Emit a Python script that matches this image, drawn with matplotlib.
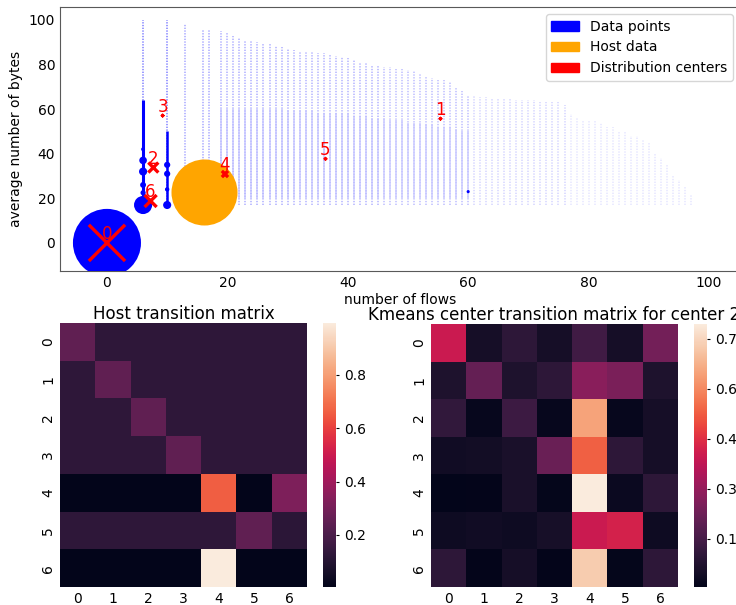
import numpy as np
import matplotlib
matplotlib.use("Agg")
import matplotlib.pyplot as plt
import matplotlib.patches as mpatches
import matplotlib.ticker as mticker
import seaborn as sns

# ---- flow / byte cloud: one faint column of points per number of flows ----
cloud_x = [6, 10, 13, 16, 17] + list(range(19, 98))
cloud_top = [100, 100, 98, 96, 95.5,
             95, 94.5, 93, 92, 91, 91, 90, 89.5, 89, 88.5, 88,      # 19-29
             87, 86.5, 86, 86, 85.5, 85, 85, 84.5, 84, 83.5,        # 30-39
             83, 82, 81, 80.5, 80, 79.5, 79, 79, 78, 78,            # 40-49
             77.5, 77, 76, 75, 74, 73, 73, 72, 70, 68,              # 50-59
             66, 66, 65.5, 65.5, 65, 65, 65, 65, 64, 64,            # 60-69
             64, 64, 63, 63, 63, 63, 62, 58, 56, 55,                # 70-79
             55, 55, 54, 52, 52, 50, 50, 48, 48, 46,                # 80-89
             45, 40, 38, 35, 30, 28, 25, 22]                        # 90-97
cloud_bottom = 17
cloud_alpha = [0.5, 0.5, 0.35, 0.35, 0.35] + \
              [0.32] * 12 + [0.3] * 15 + [0.26] * 15 + [0.17] * 16 + [0.1] * 21

# denser band of the cloud
core_x = list(range(19, 61))
core_lo = 20
core_hi = [60, 60, 60, 60, 60, 60, 60, 60, 60, 60, 60,
           59, 59, 59, 59, 59, 58, 58, 58, 58, 58,
           58, 57, 57, 57, 56, 56, 56, 55, 55, 55,
           54, 54, 54, 53, 53, 52, 52, 52, 51, 50, 50]

# heavy columns for the most frequent flow counts
heavy_x = [6, 10]
heavy_lo = [17, 17]
heavy_hi = [64, 50]

# frequent (flows, bytes) combinations, sized by count
pts_x = [0, 6, 6, 6, 6, 6, 6, 10, 10, 10, 10, 60]
pts_y = [0, 17, 22.5, 26, 32, 37, 42, 17, 24, 31, 35, 23]
pts_s = [2400, 170, 14, 18, 34, 30, 8, 34, 10, 20, 20, 5]

# host observation
host_x = [16.2]
host_y = [22.9]
host_s = [2260]

# distribution (cluster) centers
cent_x = [0, 55.4, 7.7, 9.25, 19.6, 36.3, 7.25]
cent_y = [0, 55.7, 33.8, 57.1, 30.9, 37.7, 18.8]
cent_s = [680, 2, 52, 2, 20, 2, 75]
cent_labels = ["0", "1", "2", "3", "4", "5", "6"]

# ---- transition matrices ----
host_matrix = [
    [0.25, 0.125, 0.125, 0.125, 0.125, 0.125, 0.125],
    [0.125, 0.25, 0.125, 0.125, 0.125, 0.125, 0.125],
    [0.125, 0.125, 0.25, 0.125, 0.125, 0.125, 0.125],
    [0.125, 0.125, 0.125, 0.25, 0.125, 0.125, 0.125],
    [0.005, 0.005, 0.005, 0.005, 0.66, 0.005, 0.32],
    [0.125, 0.125, 0.125, 0.125, 0.125, 0.25, 0.12],
    [0.005, 0.005, 0.005, 0.005, 0.995, 0.005, 0.005],
]
host_ticks = [0.2, 0.4, 0.6, 0.8]

center_matrix = [
    [0.40, 0.05, 0.10, 0.05, 0.14, 0.05, 0.24],
    [0.07, 0.21, 0.07, 0.10, 0.28, 0.25, 0.07],
    [0.11, 0.02, 0.13, 0.02, 0.65, 0.02, 0.05],
    [0.04, 0.045, 0.06, 0.22, 0.53, 0.10, 0.05],
    [0.006, 0.01, 0.06, 0.015, 0.795, 0.03, 0.10],
    [0.035, 0.04, 0.035, 0.055, 0.40, 0.42, 0.035],
    [0.10, 0.01, 0.05, 0.012, 0.73, 0.015, 0.10],
]
center_ticks = [0.15, 0.30, 0.45, 0.60, 0.75]

W, H = 736, 605
fig = plt.figure(figsize=(W / 100, H / 100), dpi=100)


def box(x0, y0, x1, y1):
    """Axes rectangle from pixel corners (top-left origin)."""
    return [x0 / W, (H - y1) / H, (x1 - x0) / W, (y1 - y0) / H]


# ---- scatter of flows vs. bytes ----
ax = fig.add_axes(box(60, 7, 740, 271))
ax.vlines(cloud_x, cloud_bottom, cloud_top, colors="blue", linewidth=1.1,
          linestyles=(0, (0.9, 0.9)), alpha=cloud_alpha, zorder=1)
ax.vlines(core_x, core_lo, core_hi, colors="blue", linewidth=1.1,
          linestyles=(0, (0.9, 0.9)), alpha=0.22, zorder=1)
ax.vlines(heavy_x, heavy_lo, heavy_hi, colors="blue", linewidth=[2.2, 1.8],
          zorder=2)
ax.scatter(pts_x, pts_y, s=pts_s, c="blue", linewidths=0, zorder=3)
ax.scatter(host_x, host_y, s=host_s, c="orange", linewidths=0, zorder=4)
ax.scatter(cent_x, cent_y, s=cent_s, c="red", marker="x", linewidths=2.4,
           zorder=5)
for cx, cy, lab in zip(cent_x, cent_y, cent_labels):
    ax.text(cx, cy, lab, color="red", fontsize=12, ha="center", va="bottom",
            zorder=6)

ax.set_xlim(-7.8, 105.15)
ax.set_ylim(-12.6, 105.8)
ax.set_xlabel("number of flows", labelpad=2)
ax.set_ylabel("average number of bytes")
ax.tick_params(length=0)
for sp in ax.spines.values():
    sp.set_color("0.35")
handles = [mpatches.Patch(color="blue", label="Data points"),
           mpatches.Patch(color="orange", label="Host data"),
           mpatches.Patch(color="red", label="Distribution centers")]
ax.legend(handles=handles, loc="upper right")

# ---- heatmaps ----
ax_h = fig.add_axes(box(60, 323, 307, 587))
cax_h = fig.add_axes(box(323, 323, 336, 587))
sns.heatmap(np.array(host_matrix), ax=ax_h, cbar_ax=cax_h,
            cbar_kws={"ticks": host_ticks})
ax_h.set_title("Host transition matrix", pad=1.5)

ax_c = fig.add_axes(box(431, 324, 678, 587))
cax_c = fig.add_axes(box(694, 324, 707, 587))
sns.heatmap(np.array(center_matrix), ax=ax_c, cbar_ax=cax_c,
            cbar_kws={"ticks": center_ticks,
                      "format": mticker.FormatStrFormatter("%.2f")})
ax_c.set_title("Kmeans center transition matrix for center 2", pad=1.5)

for a in (ax_h, ax_c):
    a.tick_params(length=0)
    for t in a.get_yticklabels():
        t.set_rotation(90)
        t.set_va("center")
for c in (cax_h, cax_c):
    c.tick_params(length=2.5)

fig.savefig("out.png", dpi=100)
